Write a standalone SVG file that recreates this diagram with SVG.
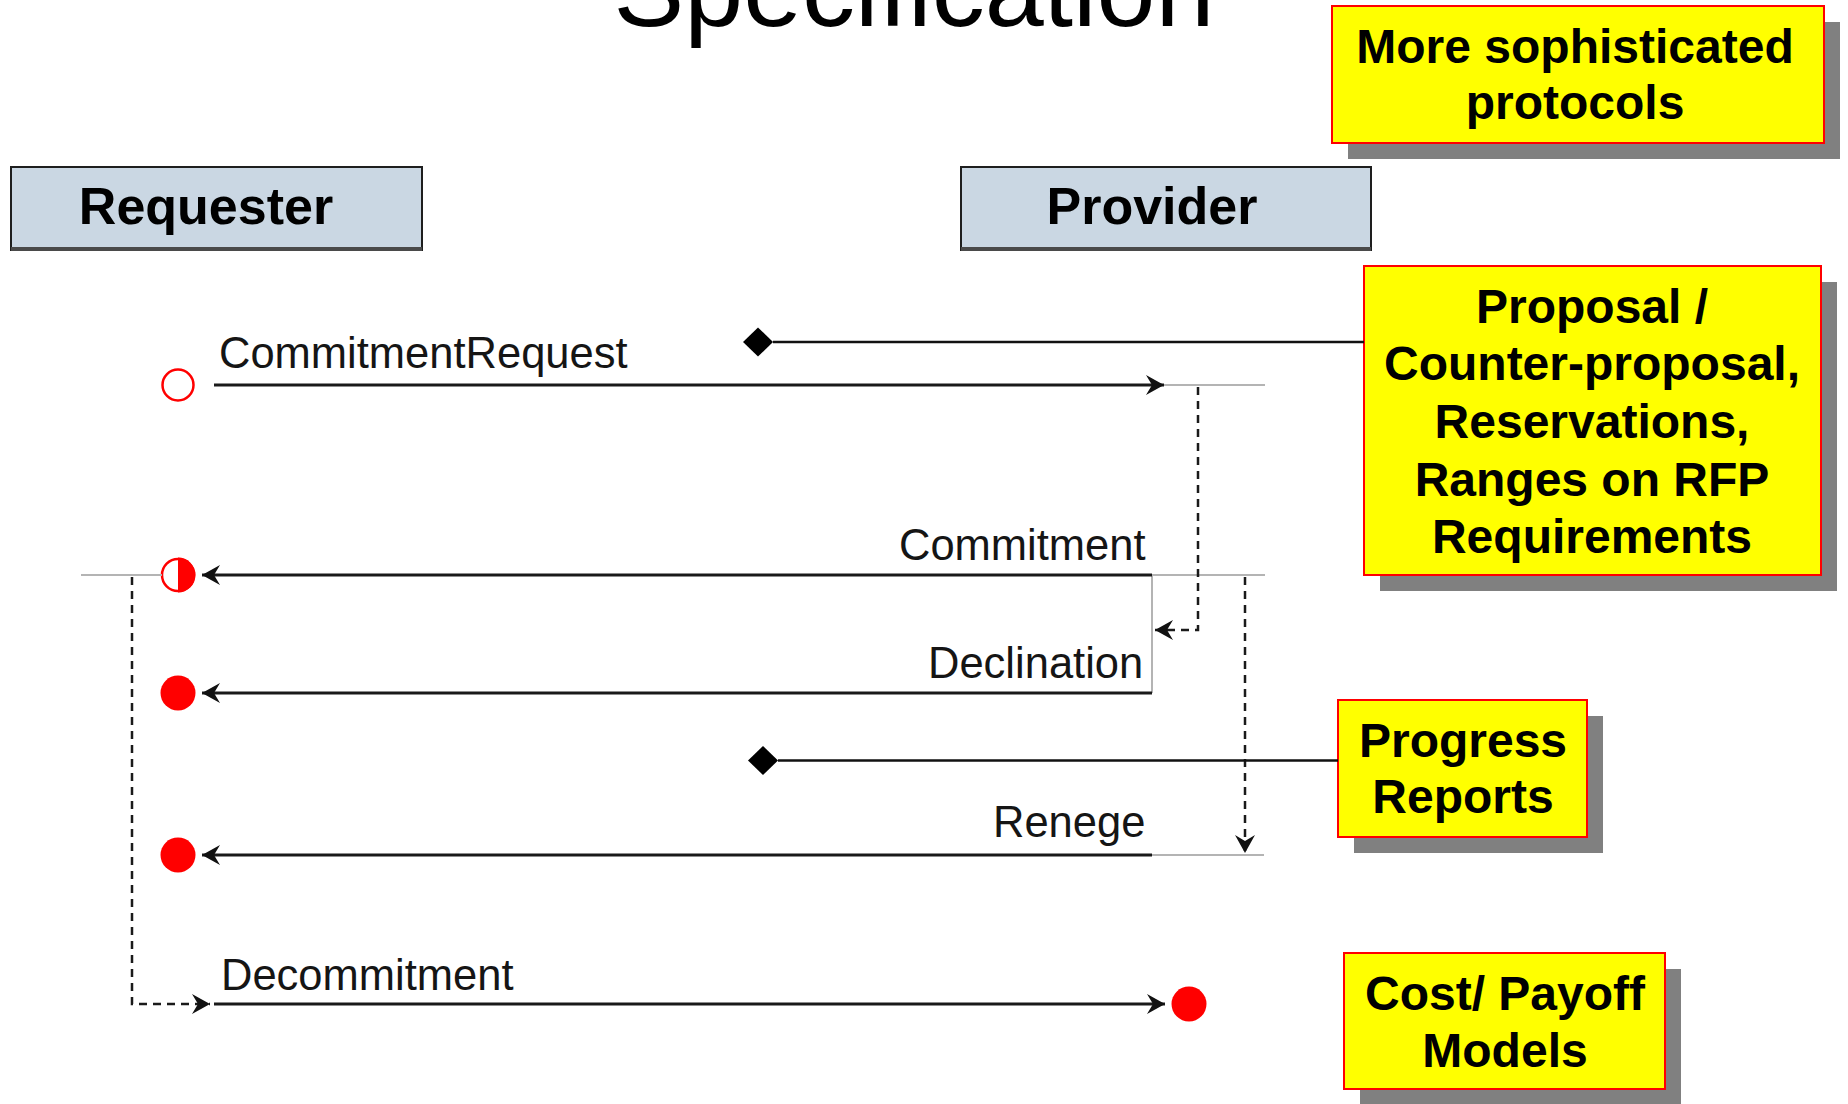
<svg xmlns="http://www.w3.org/2000/svg" width="1848" height="1104" viewBox="0 0 1848 1104">
  <style>
    .title { font-family: "Liberation Sans", Arial, sans-serif; font-size: 106px; fill: #000; }
    .role-box { fill: #cad7e3; stroke: #1e1e1e; stroke-width: 2; }
    .role-base { stroke: #4a4a4a; stroke-width: 4; }
    .role-text { font-family: "Liberation Sans", Arial, sans-serif; font-weight: bold; font-size: 52px; fill: #000; text-anchor: middle; }
    .note-shadow { fill: #808080; }
    .note-box { fill: #ffff00; stroke: #ff0000; stroke-width: 2; }
    .note-text { font-family: "Liberation Sans", Arial, sans-serif; font-weight: bold; font-size: 48px; fill: #000; text-anchor: middle; }
    .msg { stroke: #1a1a1a; stroke-width: 3; fill: none; }
    .life { stroke: #b4b4b4; stroke-width: 2; fill: none; }
    .dash { stroke: #1a1a1a; stroke-width: 2.5; stroke-dasharray: 8 6; fill: none; }
    .link { stroke: #111; stroke-width: 2.5; fill: none; }
    .label { font-family: "Liberation Sans", Arial, sans-serif; font-size: 43.5px; fill: #151515; }
    .state-open { fill: #fff; stroke: #ff0000; stroke-width: 2.5; }
    .state-full { fill: #ff0000; }
    .diamond { fill: #000; }
  </style>
  <defs>
    <marker id="arrow" viewBox="-20 -11 21 22" refX="0" refY="0" markerWidth="21" markerHeight="22" markerUnits="userSpaceOnUse" orient="auto">
      <path d="M0,0 L-18,-10 L-12,0 L-18,10 Z" fill="#111"/>
    </marker>
  </defs>

  <rect width="1848" height="1104" fill="#fff"/>

  <!-- heading, partly above the top edge -->
  <text class="title" x="914" y="26" text-anchor="middle">Specification</text>

  <!-- roles -->
  <g id="requester">
    <rect class="role-box" x="11" y="167" width="411" height="83"/>
    <line class="role-base" x1="11" y1="249" x2="422" y2="249"/>
    <text class="role-text" x="206" y="224">Requester</text>
  </g>
  <g id="provider">
    <rect class="role-box" x="961" y="167" width="410" height="83"/>
    <line class="role-base" x1="961" y1="249" x2="1371" y2="249"/>
    <text class="role-text" x="1152" y="224">Provider</text>
  </g>

  <!-- message states -->
  <g id="state-request">
    <circle class="state-open" cx="178" cy="385" r="15.5"/>
  </g>
  <g id="state-commitment">
    <circle class="state-open" cx="178" cy="575" r="16"/>
    <path class="state-full" d="M178,557.5 A17.5,17.5 0 0 1 178,592.5 Z"/>
  </g>
  <g id="state-declination">
    <circle class="state-full" cx="178" cy="693" r="17.5"/>
  </g>
  <g id="state-renege">
    <circle class="state-full" cx="178" cy="855" r="17.5"/>
  </g>
  <g id="state-decommitment">
    <circle class="state-full" cx="1189" cy="1004" r="17.5"/>
  </g>

  <!-- message labels -->
  <g id="labels">
    <text class="label" x="219" y="368">CommitmentRequest</text>
    <text class="label" x="899" y="560">Commitment</text>
    <text class="label" x="928" y="678">Declination</text>
    <text class="label" x="993" y="837">Renege</text>
    <text class="label" x="221" y="990">Decommitment</text>
  </g>

  <!-- callout notes -->
  <g id="note-protocols">
    <rect class="note-shadow" x="1348" y="22" width="492" height="137"/>
    <rect class="note-box" x="1332" y="6" width="492" height="137"/>
    <text class="note-text" x="1575" y="63">More sophisticated</text>
    <text class="note-text" x="1575" y="119">protocols</text>
  </g>
  <g id="note-proposal">
    <rect class="note-shadow" x="1380" y="282" width="457" height="309"/>
    <rect class="note-box" x="1364" y="266" width="457" height="309"/>
    <text class="note-text" x="1592" y="323">Proposal /</text>
    <text class="note-text" x="1592" y="380">Counter-proposal,</text>
    <text class="note-text" x="1592" y="438">Reservations,</text>
    <text class="note-text" x="1592" y="496">Ranges on RFP</text>
    <text class="note-text" x="1592" y="553">Requirements</text>
  </g>
  <g id="note-progress">
    <rect class="note-shadow" x="1354" y="716" width="249" height="137"/>
    <rect class="note-box" x="1338" y="700" width="249" height="137"/>
    <text class="note-text" x="1463" y="757">Progress</text>
    <text class="note-text" x="1463" y="813">Reports</text>
  </g>
  <g id="note-cost">
    <rect class="note-shadow" x="1360" y="969" width="321" height="136"/>
    <rect class="note-box" x="1344" y="953" width="321" height="136"/>
    <text class="note-text" x="1505" y="1010">Cost/ Payoff</text>
    <text class="note-text" x="1505" y="1067">Models</text>
  </g>

  <!-- connectors -->
  <g id="connectors">
    <!-- lifeline ticks -->
    <line class="life" x1="1164" y1="385" x2="1265" y2="385"/>
    <line class="life" x1="81" y1="575" x2="162" y2="575"/>
    <line class="life" x1="1152" y1="575" x2="1265" y2="575"/>
    <line class="life" x1="1152" y1="575" x2="1152" y2="693"/>
    <line class="life" x1="1152" y1="855" x2="1264" y2="855"/>

    <!-- messages -->
    <line class="msg" x1="214" y1="385" x2="1164" y2="385" marker-end="url(#arrow)"/>
    <line class="msg" x1="1152" y1="575" x2="202" y2="575" marker-end="url(#arrow)"/>
    <line class="msg" x1="1152" y1="693" x2="202" y2="693" marker-end="url(#arrow)"/>
    <line class="msg" x1="1152" y1="855" x2="202" y2="855" marker-end="url(#arrow)"/>
    <line class="msg" x1="214" y1="1004" x2="1165" y2="1004" marker-end="url(#arrow)"/>

    <!-- state transitions -->
    <path class="dash" d="M1198,387 V630 H1155" marker-end="url(#arrow)"/>
    <path class="dash" d="M1245,577 V853" marker-end="url(#arrow)"/>
    <path class="dash" d="M132,577 V1004 H210" marker-end="url(#arrow)"/>

    <!-- note links -->
    <line class="link" x1="773" y1="342" x2="1364" y2="342"/>
    <polygon class="diamond" points="743,342 758,327.5 773,342 758,356.5"/>
    <line class="link" x1="778" y1="760.5" x2="1338" y2="760.5"/>
    <polygon class="diamond" points="748,760.5 763,746 778,760.5 763,775"/>
  </g>
</svg>
